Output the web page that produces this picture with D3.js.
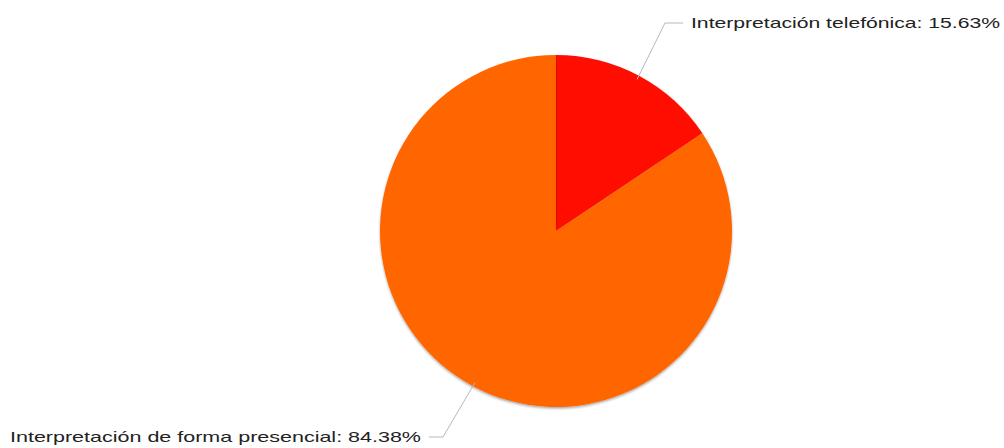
<!DOCTYPE html>
<html><head><meta charset="utf-8">
<script src="https://cdn.jsdelivr.net/npm/d3@7"></script>
<style>body{margin:0;background:#fff}svg{display:block}</style>
</head><body>
<script>
const categories = ["Interpretación telefónica", "Interpretación de forma presencial"];
const values = [15.63, 84.38];
const colors = ["#FF1100", "#FF6600"];

const W = 1004, H = 448, cx = 556, cy = 231, R = 176;
const svg = d3.select("body").append("svg").attr("width", W).attr("height", H);
const defs = svg.append("defs");
const f = defs.append("filter").attr("id","sh").attr("x","-10%").attr("y","-10%").attr("width","120%").attr("height","120%");
f.append("feDropShadow").attr("dx",0).attr("dy",1.5).attr("stdDeviation",1.2).attr("flood-color","#000").attr("flood-opacity",0.35);

const pie = d3.pie().sort(null).value(d => d)(values);
const arc = d3.arc().innerRadius(0).outerRadius(R);
const g = svg.append("g").attr("transform", `translate(${cx},${cy})`);
g.selectAll("path").data(pie).join("path")
  .attr("d", arc).attr("fill", (d,i) => colors[i]).attr("filter","url(#sh)");

// labels
const labelCfg = [
  {bend: [665, 23], end: [683, 23], tx: 691, anchor: "start", len: 309},
  {bend: [443, 437], end: [429, 437], tx: 421, anchor: "end", len: 411}
];
pie.forEach((d, i) => {
  const a = (d.startAngle + d.endAngle) / 2;
  const p0 = [cx + (R - 4) * Math.sin(a), cy - (R - 4) * Math.cos(a)];
  const c = labelCfg[i];
  svg.append("polyline")
    .attr("points", [p0, c.bend, c.end].map(p => p.join(",")).join(" "))
    .attr("fill", "none").attr("stroke", "#b8b8b8").attr("stroke-width", 1);
  svg.append("text")
    .attr("x", c.tx).attr("y", c.end[1]).attr("dy", "0.35em")
    .attr("text-anchor", c.anchor)
    .attr("font-family", "Liberation Sans, Arial, sans-serif")
    .attr("font-size", 15).attr("fill", "#222")
    .attr("textLength", c.len).attr("lengthAdjust", "spacingAndGlyphs")
    .text(`${categories[i]}: ${values[i].toFixed(2)}%`);
});
</script>
</body></html>
